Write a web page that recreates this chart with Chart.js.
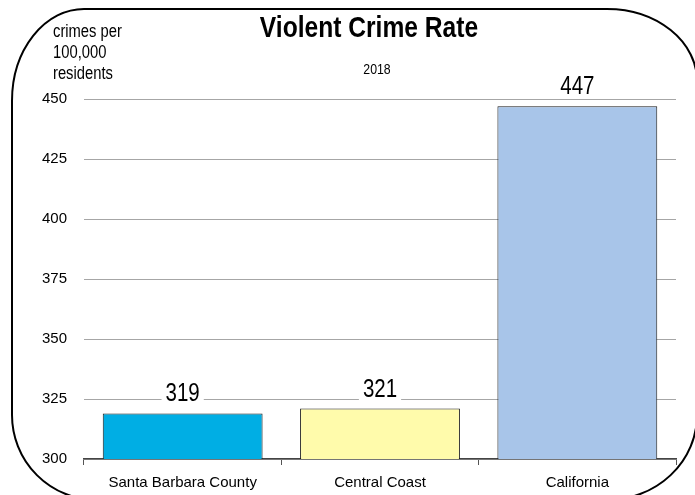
<!DOCTYPE html>
<html>
<head>
<meta charset="utf-8">
<script src="https://cdn.jsdelivr.net/npm/chart.js@4.4.1/dist/chart.umd.min.js"></script>
<style>
  html, body { margin: 0; padding: 0; background: #fff; }
  canvas { display: block; }
</style>
</head>
<body>
<canvas id="crimeChart" width="695" height="495"></canvas>
<script>
// ============ DATA ============
const categories = ['Santa Barbara County', 'Central Coast', 'California'];
const crimeRate = [319, 321, 447];
const barColors = ['#00aee4', '#fffbab', '#a8c5e9'];
const yTicks = [300, 325, 350, 375, 400, 425, 450];
const titleText = 'Violent Crime Rate';
const subtitleText = '2018';
const unitLines = ['crimes per', '100,000', 'residents'];

const FONT = '"Liberation Sans", Arial, sans-serif';
const SQUEEZE = 0.82; // the original uses a narrow face

// draw text squeezed horizontally
function narrowText(ctx, txt, x, y) {
  ctx.save();
  ctx.translate(x, y);
  ctx.scale(SQUEEZE, 1);
  ctx.fillText(txt, 0, 0);
  ctx.restore();
}

// ============ PLUGINS ============
const frame = {
  id: 'frame',
  beforeDraw(chart) {
    const ctx = chart.ctx;
    ctx.save();
    ctx.fillStyle = '#fff';
    ctx.fillRect(0, 0, chart.width, chart.height);
    ctx.restore();
  },
  afterDraw(chart) {
    const ctx = chart.ctx;
    const L = 12, T = 9, R = 697, B = 500;
    ctx.save();
    ctx.strokeStyle = '#000';
    ctx.lineWidth = 2;
    ctx.beginPath();
    ctx.moveTo(L + 72, T);
    ctx.lineTo(R - 90, T);
    ctx.ellipse(R - 90, T + 72, 90, 72, 0, -Math.PI / 2, 0);
    ctx.lineTo(R, B - 85);
    ctx.ellipse(R - 90, B - 85, 90, 85, 0, 0, Math.PI / 2);
    ctx.lineTo(L + 85, B);
    ctx.ellipse(L + 85, B - 85, 85, 85, 0, Math.PI / 2, Math.PI);
    ctx.lineTo(L, T + 92);
    ctx.ellipse(L + 72, T + 92, 72, 92, 0, Math.PI, Math.PI * 1.5);
    ctx.stroke();

    // titles and unit label
    ctx.fillStyle = '#000';
    ctx.textAlign = 'center';
    ctx.textBaseline = 'alphabetic';
    ctx.font = 'bold 30px ' + FONT;
    narrowText(ctx, titleText, 369, 37);
    ctx.font = '15px ' + FONT;
    narrowText(ctx, subtitleText, 377, 74);
    ctx.textAlign = 'left';
    ctx.font = '18px ' + FONT;
    unitLines.forEach((t, i) => narrowText(ctx, t, 53, 37 + i * 21));
    ctx.restore();
  }
};

const barLabels = {
  id: 'barLabels',
  afterDatasetsDraw(chart) {
    const ctx = chart.ctx;
    const meta = chart.getDatasetMeta(0);
    ctx.save();
    ctx.font = '25px ' + FONT;
    ctx.textAlign = 'center';
    ctx.textBaseline = 'alphabetic';
    meta.data.forEach((bar, i) => {
      const txt = String(crimeRate[i]);
      const w = ctx.measureText(txt).width * SQUEEZE;
      const base = bar.y - 12;
      ctx.fillStyle = '#fff';
      ctx.fillRect(bar.x - w / 2 - 4, base - 22, w + 8, 26);
      ctx.fillStyle = '#000';
      narrowText(ctx, txt, bar.x, base);
    });
    ctx.restore();
  }
};

// ============ CHART ============
new Chart(document.getElementById('crimeChart'), {
  type: 'bar',
  data: {
    labels: categories,
    datasets: [{
      data: crimeRate,
      backgroundColor: barColors,
      borderColor: '#1a1a1a',
      borderWidth: 1,
      borderSkipped: false,
      categoryPercentage: 0.81,
      barPercentage: 1
    }]
  },
  options: {
    responsive: false,
    animation: false,
    layout: { padding: { top: 99, right: 19, left: 0, bottom: 0 } },
    plugins: { legend: { display: false }, tooltip: { enabled: false }, title: { display: false } },
    scales: {
      x: {
        grid: { offset: true, drawOnChartArea: false, tickLength: 6, color: '#555', lineWidth: 1 },
        border: { color: '#444', width: 1.5 },
        ticks: { color: '#000', font: { family: FONT, size: 15 }, padding: 9, maxRotation: 0 },
        afterFit(s) { s.height = 36; }
      },
      y: {
        min: 300, max: 450,
        afterBuildTicks(s) { s.ticks = yTicks.map(v => ({ value: v })); },
        grid: { color: '#a6a6a6', lineWidth: 1, drawTicks: false },
        border: { display: false },
        ticks: { color: '#000', font: { family: FONT, size: 15 }, padding: 17 },
        afterFit(s) { s.width = 84; }
      }
    }
  },
  plugins: [frame, barLabels]
});
</script>
</body>
</html>
